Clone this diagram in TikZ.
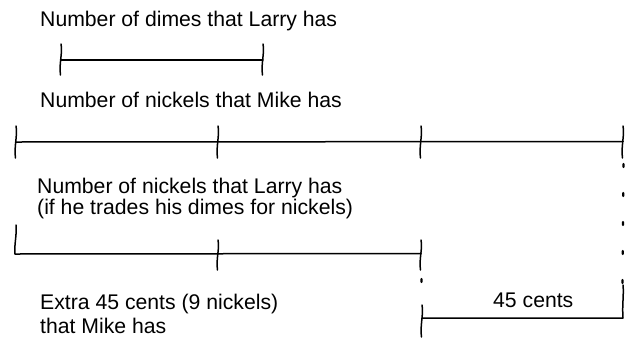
\documentclass[tikz,border=0pt]{standalone}
\usepackage{fontspec}
\setmainfont{Liberation Sans}
\begin{document}
\begin{tikzpicture}[x=1pt,y=-1pt,
  lbl/.style={anchor=base west,inner sep=0pt,align=left,font=\fontsize{21.2}{21.5}\selectfont},
  bar/.style={line width=1.5pt,line cap=round,line join=round},
  dots/.style={line width=2.2pt,line cap=round,dash pattern=on 3pt off 26pt}]
\useasboundingbox (0,0) rectangle (629,338);
% hand-drawn tick: from top to bottom at x
\newcommand{\htick}[3]{\draw[bar] (#1,#2) .. controls (#1+1.8,#2+9) and (#1-2.2,#3-11) .. (#1-0.5,#3);}
% texts
\node[lbl] (t1) at (40,26) {Number of dimes that Larry has};
\node[lbl] (t2) at (40,107) {Number of nickels that Mike has};
\node[lbl] (t3) at (37,214.5) {Number of nickels that Larry has\\(if he trades his dimes for nickels)};
\node[lbl,font=\fontsize{21.2}{24}\selectfont] (t4) at (40,333) {Extra 45 cents (9 nickels)\\that Mike has};
\node[lbl] (t5) at (493,307) {45 cents};
% dimes bar
\coordinate (d1) at (61,60); \coordinate (d2) at (263,60);
\draw[bar] (d1) -- (d2);
\htick{61}{44}{75}
\htick{263}{44}{75}
% Mike nickels bar
\coordinate (m0) at (16,142); \coordinate (m3) at (623,141.5);
\draw[bar] (m0) -- (m3);
\htick{16}{126}{158}
\htick{218}{126}{158}
\htick{421}{126}{158}
\htick{623}{126}{158}
% Larry nickels bar
\coordinate (l0) at (15,254); \coordinate (l2) at (421,253.5);
\draw[bar] (16,225) .. controls (17,235) and (14,245) .. (l0) -- (l2);
\htick{218}{240}{270}
\htick{421}{240}{270}
% 45 cents bracket
\coordinate (c0) at (422,318); \coordinate (c1) at (623,318);
\draw[bar] (c0) -- (c1) .. controls (622,305) and (624,295) .. (623,285);
\htick{422}{305}{337}
% dotted guides
\draw[dots] (623.5,164) -- (622.5,285);
\draw[dots] (421.5,279) -- (421,300);
\end{tikzpicture}
\end{document}
